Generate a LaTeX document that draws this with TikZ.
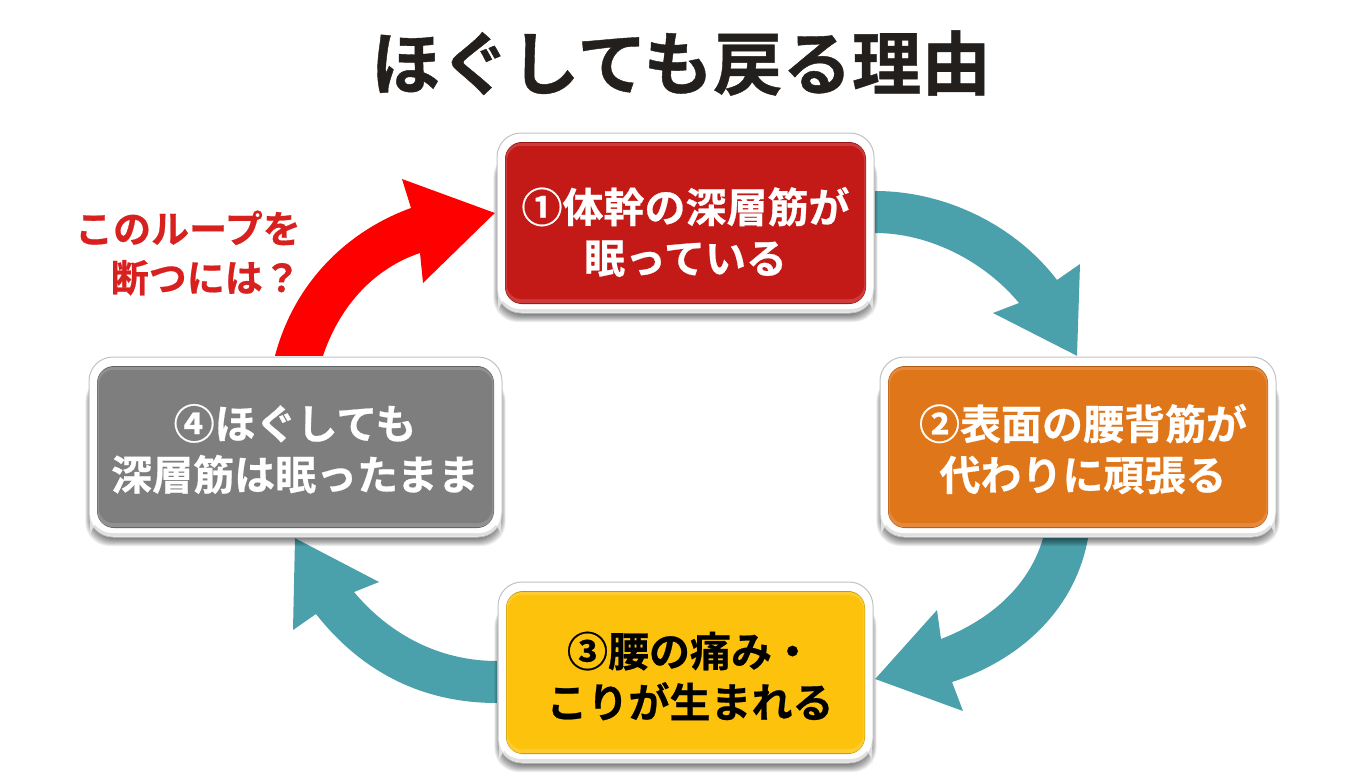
\documentclass[tikz,border=0pt]{standalone}
\usepackage{fontspec}
\setmainfont{Noto Sans CJK JP}[BoldFont={Noto Sans CJK JP Bold},BoldFeatures={FakeBold=0.6}]
\usetikzlibrary{calc}
\pgfdeclarelayer{bg}
\pgfsetlayers{bg,main}
\definecolor{tealarrow}{HTML}{4AA0AB}
\definecolor{titleink}{HTML}{231F1C}
\definecolor{labelred}{HTML}{D8201F}
\definecolor{boxred}{HTML}{C31A18}
\definecolor{boxorange}{HTML}{E0761A}
\definecolor{boxyellow}{HTML}{FDC30C}
\definecolor{boxgray}{HTML}{7E7E7E}
\tikzset{
  loopstep/.style={fill=tealarrow,draw=none},
  breakstep/.style={fill=red,draw=none},
  paneltext/.style={font=\bfseries\fontsize{41}{51}\selectfont,align=center,inner sep=0pt},
}
% name, x0,y0,x1,y1, colour
\newcommand{\panelbox}[6]{%
  \foreach \s in {1,...,12}{
    \fill[black,opacity=0.075,rounded corners=24]
      ({#2+6-0.8*\s},{#3+20}) rectangle ({#4-6+0.8*\s},{#5-3+\s});
  }
  \fill[white,draw=black!24,line width=1pt,rounded corners=24] (#2,#3) rectangle (#4,#5);
  \fill[black!12,rounded corners=22] ({#2+1},{#5-20}) rectangle ({#4-1},{#5-1});
  \fill[white,rounded corners=21] ({#2+2},{#3+2}) rectangle ({#4-2},{#5-4});
  \fill[#6!78!black,rounded corners=17] ({#2+8},{#3+9}) rectangle ({#4-8},{#5-9});
  \fill[#6!85!white,rounded corners=16] ({#2+8.5},{#3+10}) rectangle ({#4-8.5},{#5-9.8});
  \fill[#6,rounded corners=14] ({#2+10},{#3+13}) rectangle ({#4-10},{#5-14});
  \node[minimum width={(#4-#2)*1pt},minimum height={(#5-#3)*1pt},inner sep=0pt] (#1)
    at ({(#2+#4)/2},{(#3+#5)/2}) {};
}
\begin{document}
\begin{tikzpicture}[x=1pt,y=-1pt]
\useasboundingbox (0,0) rectangle (1360,784);
\begin{pgfonlayer}{bg}
\fill[white] (0,0) rectangle (1360,784);
\end{pgfonlayer}

\panelbox{n1}{497}{133}{874}{313}{boxred}
\panelbox{n2}{880}{357}{1276}{537}{boxorange}
\panelbox{n3}{498}{582}{873}{763}{boxyellow}
\panelbox{n4}{89}{357}{502}{537}{boxgray}

\node[font=\bfseries\fontsize{69.5}{69.5}\selectfont,text=titleink,inner sep=0pt] (title) at (681,63) {ほぐしても戻る理由};

\node[paneltext,text=white] (t1) at (685.5,232) {①体幹の深層筋が\\眠っている};
\node[paneltext,text=white] (t2) at (1083,449) {②表面の腰背筋が\\代わりに頑張る};
\node[paneltext,text=black] (t3) at (690,676) {③腰の痛み・\\こりが生まれる};
\node[paneltext,text=white] (t4) at (295,449) {④ほぐしても\\深層筋は眠ったまま};

\node[font=\bfseries\fontsize{38}{49}\selectfont,align=right,text=labelred,inner sep=0pt,anchor=east] (note) at (301,253) {このループを\\断つには？};

\begin{pgfonlayer}{bg}
\fill[loopstep] ($(n1.east)+(1,-32)$) .. controls (945,191) and (1015,225) .. (1057,280)
  -- (1080,264) -- ($(n2.north)+(-1,-1)$) -- (993,313) -- (1019,303)
  .. controls (985,262) and (930,233) .. ($(n1.east)+(1,10)$) -- cycle;
\fill[loopstep] ($(n2.south)+(10,1)$) .. controls (1075,610) and (1020,660) .. (952,682)
  -- (963,711) -- ($(n3.east)+(2,6.5)$) -- (937,610) -- (941,639)
  .. controls (985,622) and (1028,590) .. ($(n2.south)+(-35,1)$) -- cycle;
\fill[loopstep] ($(n3.west)+(-1,-11.5)$) .. controls (440,661) and (390,635) .. (354,592)
  -- (379,582) -- ($(n4.south)+(-0.5,1)$) -- (293,630) -- (316,614)
  .. controls (360,670) and (420,703) .. ($(n3.west)+(-1,30.5)$) -- cycle;
\fill[breakstep] ($(n4.north)+(-20.5,-1)$) .. controls (295,280) and (350,230) .. (411,208)
  -- (402,179) -- ($(n1.west)+(-2,-10)$) -- (423,283) -- (420,253)
  .. controls (375,268) and (340,305) .. ($(n4.north)+(27.5,-1)$) -- cycle;
\end{pgfonlayer}
\end{tikzpicture}
\end{document}
